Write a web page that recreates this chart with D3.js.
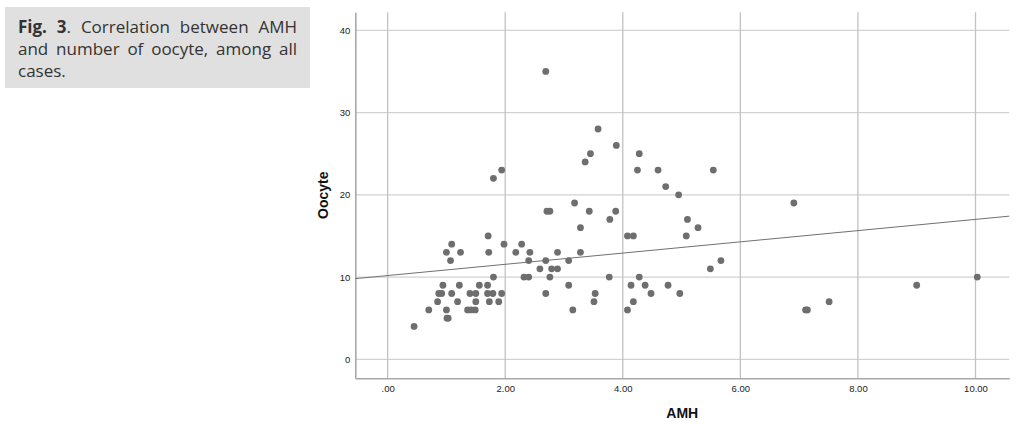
<!DOCTYPE html>
<html>
<head>
<meta charset="utf-8">
<script src="https://cdn.jsdelivr.net/npm/d3@7"></script>
<style>
  html, body { margin: 0; padding: 0; background: #fff; }
  #wrap { position: relative; width: 1029px; height: 427px; overflow: hidden; }
  #caption {
    position: absolute; left: 5px; top: 7px; width: 279px; height: 66px;
    padding: 9px 13px 6px 13px; background: #e0e0e0;
    font-family: 'Open Sans', sans-serif; font-size: 17px; line-height: 22.2px;
    color: #333; text-align: justify;
  }
  #caption b { font-weight: 700; }
  svg { position: absolute; left: 0; top: 0; }
</style>
</head>
<body>
<div id="wrap">
  <div id="caption"><b>Fig. 3</b>. Correlation between AMH and number of oocyte, among all cases.</div>
  <div id="chart"></div>
</div>
<script>
// AMH (x) and oocyte count (y), one entry per case
const amh = [
  0.45, 0.70, 0.85, 0.87, 0.92, 0.94, 1.00, 1.01, 1.03, 1.00,
  1.07, 1.09, 1.09, 1.19, 1.22, 1.24, 1.36, 1.42, 1.49, 1.40,
  1.50, 1.50, 1.56, 1.70, 1.70, 1.71, 1.72, 1.73, 1.79, 1.80,
  1.80, 1.89, 1.94, 1.94, 1.98, 2.18, 2.28, 2.42, 2.40, 2.32,
  2.40, 2.59, 2.69, 2.69, 2.69, 2.71, 2.76, 2.76, 2.79, 2.89,
  2.89, 3.08, 3.08, 3.15, 3.18, 3.28, 3.28, 3.36, 3.45, 3.43,
  3.51, 3.53, 3.58, 3.77, 3.78, 3.88, 3.89, 4.08, 4.18, 4.08,
  4.18, 4.14, 4.38, 4.25, 4.28, 4.28, 4.48, 4.60, 4.73, 4.77,
  4.95, 4.97, 5.08, 5.10, 5.28, 5.49, 5.54, 5.67, 6.91, 7.11,
  7.14, 7.51, 9.00, 10.03
];
const oocyte = [
  4, 6, 7, 8, 8, 9, 6, 5, 5, 13,
  12, 14, 8, 7, 9, 13, 6, 6, 6, 8,
  8, 7, 9, 9, 8, 15, 13, 7, 8, 10,
  22, 7, 8, 23, 14, 13, 14, 13, 12, 10,
  10, 11, 12, 8, 35, 18, 18, 10, 11, 11,
  13, 12, 9, 6, 19, 16, 13, 24, 25, 18,
  7, 8, 28, 10, 17, 18, 26, 15, 15, 6,
  7, 9, 9, 23, 25, 10, 8, 23, 21, 9,
  20, 8, 15, 17, 16, 11, 23, 12, 19, 6,
  6, 7, 9, 10
];
const xTicks = [0, 2, 4, 6, 8, 10];
const yTicks = [0, 10, 20, 30, 40];
// linear fit line (total)
const fitIntercept = 10.18;
const fitSlope = 0.683;

const W = 1029, H = 427;
const x = d3.scaleLinear().domain([-0.55, 10.575]).range([355.3, 1009.3]);
const y = d3.scaleLinear().domain([-2.3, 42.2]).range([378.2, 12.2]);

const svg = d3.select('#chart').append('svg').attr('width', W).attr('height', H);
const fmtX = v => v === 0 ? '.00' : v.toFixed(2);

// gridlines
svg.append('g').selectAll('line').data(yTicks).enter().append('line')
  .attr('x1', x.range()[0]).attr('x2', x.range()[1])
  .attr('y1', d => y(d)).attr('y2', d => y(d))
  .attr('stroke', '#d2d2d2').attr('stroke-width', 1.3);
svg.append('g').selectAll('line').data(xTicks).enter().append('line')
  .attr('x1', d => x(d)).attr('x2', d => x(d))
  .attr('y1', y.range()[0]).attr('y2', y.range()[1])
  .attr('stroke', '#c2c2c2').attr('stroke-width', 1.3);

// axes
const xAxis = svg.append('g').attr('transform', `translate(0,${y.range()[0]})`)
  .call(d3.axisBottom(x).tickValues(xTicks).tickFormat(fmtX).tickSize(0).tickPadding(7));
const yAxis = svg.append('g').attr('transform', `translate(${x.range()[0]},0)`)
  .call(d3.axisLeft(y).tickValues(yTicks).tickSize(0).tickPadding(5));
[xAxis, yAxis].forEach(g => {
  g.select('.domain').attr('stroke', '#a8a8a8').attr('stroke-width', 1.6);
  g.selectAll('text').attr('font-family', 'Liberation Sans, Arial, sans-serif')
    .attr('font-size', '9.5px').attr('fill', '#222');
});

// fit line
const xd = x.domain();
svg.append('line')
  .attr('x1', x(xd[0])).attr('y1', y(fitIntercept + fitSlope * xd[0]))
  .attr('x2', x(xd[1])).attr('y2', y(fitIntercept + fitSlope * xd[1]))
  .attr('stroke', '#707070').attr('stroke-width', 1);

// points
svg.append('g').selectAll('circle').data(amh).enter().append('circle')
  .attr('cx', d => x(d)).attr('cy', (_, i) => y(oocyte[i]))
  .attr('r', 3.4).attr('fill', '#6e6e6e');

// axis titles
svg.append('text').attr('x', (x.range()[0] + x.range()[1]) / 2).attr('y', 418)
  .attr('text-anchor', 'middle').attr('font-family', 'Liberation Sans, Arial, sans-serif')
  .attr('font-weight', 'bold').attr('font-size', '14px').attr('fill', '#111').text('AMH');
svg.append('text').attr('transform', `translate(328,${(y.range()[0] + y.range()[1]) / 2}) rotate(-90)`)
  .attr('text-anchor', 'middle').attr('font-family', 'Liberation Sans, Arial, sans-serif')
  .attr('font-weight', 'bold').attr('font-size', '14px').attr('fill', '#111').text('Oocyte');
</script>
</body>
</html>
